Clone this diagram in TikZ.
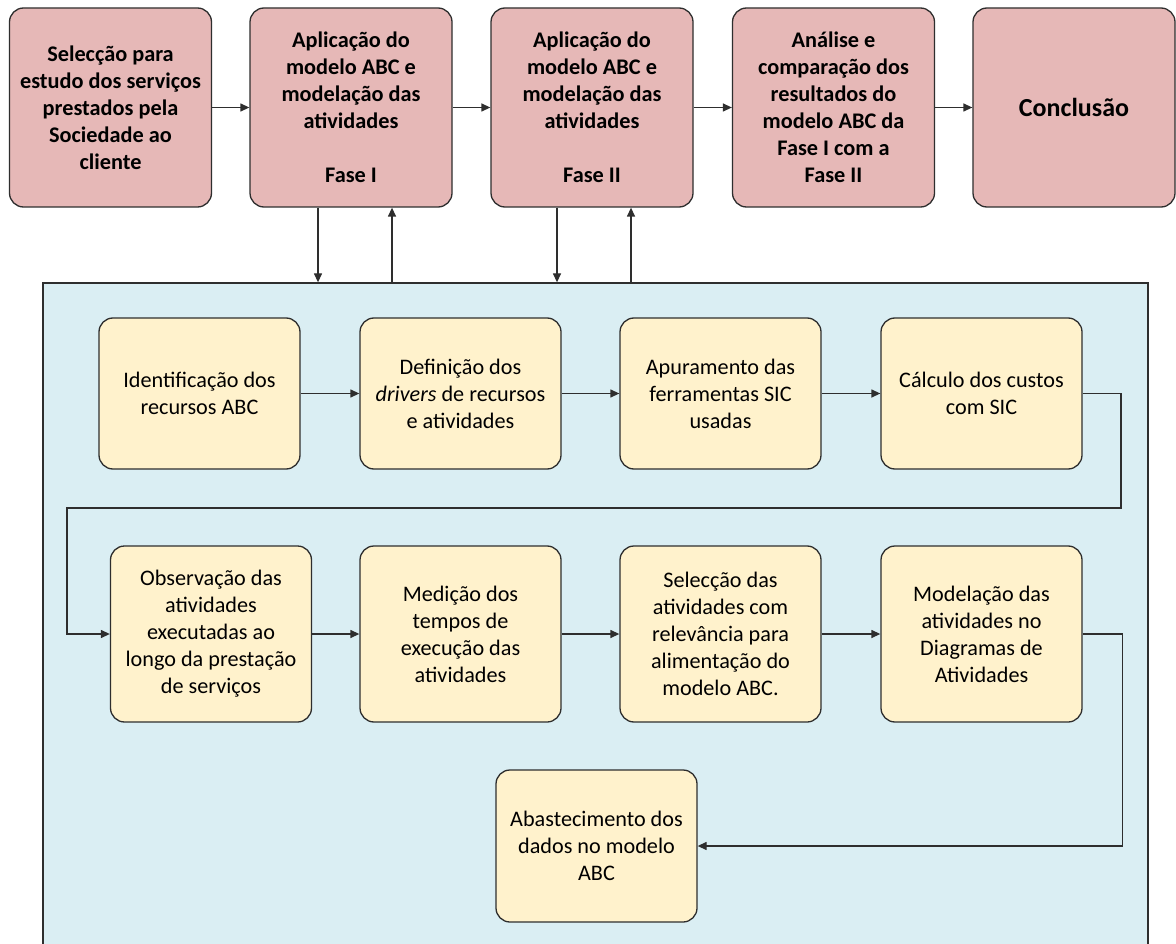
\documentclass[tikz,border=0pt]{standalone}
\usepackage{fontspec}
\setmainfont{Carlito}
\usetikzlibrary{arrows.meta}
\definecolor{phasefill}{HTML}{E6B8B7}
\definecolor{stepfill}{HTML}{FFF2CC}
\definecolor{panelfill}{HTML}{DAEEF3}
\definecolor{edgecol}{HTML}{2E2E2E}
\tikzset{
  phasebox/.style={draw=edgecol, fill=phasefill, rounded corners=14pt, line width=1.3pt,
    minimum width=202pt, minimum height=199pt, inner sep=0pt, align=center,
    font=\bfseries\fontsize{22.3}{27}\selectfont},
  stepbox/.style={draw=edgecol, fill=stepfill, rounded corners=14pt, line width=1.3pt,
    minimum width=201pt, inner sep=0pt, align=center,
    font=\fontsize{22.2}{27}\selectfont},
  panel/.style={draw=edgecol, fill=panelfill, line width=1.3pt, inner sep=0pt},
  flow/.style={draw=edgecol, line width=1.3pt, -{Triangle[length=9pt,width=8pt]}}
}
\begin{document}
\begin{tikzpicture}[x=1pt,y=-1pt]
\clip (0,0) rectangle (1176,944);
\fill[white] (0,0) rectangle (1176,944);

% panel holding the detailed steps (its lower edge runs off the page)
\node[panel, minimum width=1105pt, minimum height=670pt] (panel) at (595.5,618) {};

% top row: phases
\node[phasebox] (p1) at (110.5,107.5) {Selecção para\\estudo dos serviços\\prestados pela\\Sociedade ao\\cliente};
\node[phasebox] (p2) at (351,107.5) {Aplicação do\\modelo ABC e\\modelação das\\atividades\\[27pt]Fase I};
\node[phasebox] (p3) at (592,107.5) {Aplicação do\\modelo ABC e\\modelação das\\atividades\\[27pt]Fase II};
\node[phasebox] (p4) at (833.5,107.5) {Análise e\\comparação dos\\resultados do\\modelo ABC da\\Fase I com a\\Fase II};
\node[phasebox, font=\bfseries\fontsize{26}{30}\selectfont] (p5) at (1074,107.5) {Conclusão};

\foreach \a/\b in {p1/p2,p2/p3,p3/p4,p4/p5}
  \draw[flow] (\a.east) -- (\b.west);

% links between the model phases and the panel
\draw[flow] ([xshift=-33pt]p2.south) -- ([xshift=-33pt]p2.south |- panel.north);
\draw[flow] ([xshift=41pt]p2.south |- panel.north) -- ([xshift=41pt]p2.south);
\draw[flow] ([xshift=-35pt]p3.south) -- ([xshift=-35pt]p3.south |- panel.north);
\draw[flow] ([xshift=39pt]p3.south |- panel.north) -- ([xshift=39pt]p3.south);

% first row of steps
\node[stepbox, minimum height=151pt] (s1) at (199.5,393.5) {Identificação dos\\recursos ABC};
\node[stepbox, minimum height=151pt] (s2) at (460.5,393.5) {Definição dos\\\textit{drivers} de recursos\\e atividades};
\node[stepbox, minimum height=151pt] (s3) at (720.5,393.5) {Apuramento das\\ferramentas SIC\\usadas};
\node[stepbox, minimum height=151pt] (s4) at (981.5,393.5) {Cálculo dos custos\\com SIC};

% second row of steps
\node[stepbox, minimum height=176pt] (s5) at (211,634) {Observação das\\atividades\\executadas ao\\longo da prestação\\de serviços};
\node[stepbox, minimum height=176pt] (s6) at (460.5,634) {Medição dos\\tempos de\\execução das\\atividades};
\node[stepbox, minimum height=176pt] (s7) at (720.5,634) {Selecção das\\atividades com\\relevância para\\alimentação do\\modelo ABC.};
\node[stepbox, minimum height=176pt] (s8) at (981.5,634) {Modelação das\\atividades no\\Diagramas de\\Atividades};

% final step
\node[stepbox, minimum height=152pt] (s9) at (596.5,846) {Abastecimento dos\\dados no modelo\\ABC};

\foreach \a/\b in {s1/s2,s2/s3,s3/s4,s5/s6,s6/s7,s7/s8}
  \draw[flow] (\a.east) -- (\b.west);

% wrap from the end of the first row to the start of the second
\coordinate (wrapR) at (1121,508);
\coordinate (wrapL) at (67,508);
\draw[flow] (s4.east) -| (wrapR) -- (wrapL) |- (s5.west);
\draw[flow] (s8.east) -- ++(39.5,0) |- (s9.east);
\end{tikzpicture}
\end{document}
